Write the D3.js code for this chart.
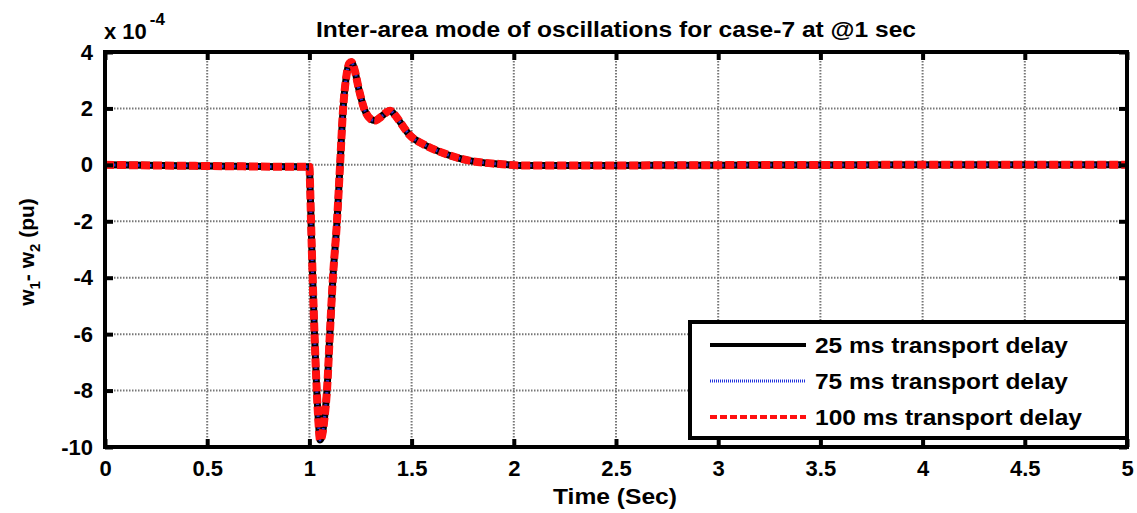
<!DOCTYPE html>
<html>
<head>
<meta charset="utf-8">
<script src="https://cdn.jsdelivr.net/npm/d3@7"></script>
<style>
  body { margin: 0; background: #fff; }
  svg { display: block; font-family: "Liberation Sans", Arial, sans-serif; font-weight: bold; }
</style>
</head>
<body>
<svg id="chart" width="1137" height="513"></svg>
<script>
// data (values in units of 1e-4 pu)
var timeSec = [0, 0.5, 0.99, 1.0, 1.004, 1.008, 1.016, 1.025, 1.036, 1.045, 1.052, 1.062, 1.075, 1.086, 1.1, 1.115, 1.135, 1.15, 1.165, 1.18, 1.195, 1.205, 1.22, 1.243, 1.27, 1.3, 1.32, 1.35, 1.375, 1.395, 1.42, 1.45, 1.49, 1.56, 1.64, 1.72, 1.79, 1.86, 1.93, 2.03, 2.5, 3, 4, 5];
var delta = [0, -0.04, -0.07, -0.07, -0.9, -2.0, -4.0, -6.0, -8.0, -9.2, -9.75, -9.6, -8.9, -8.0, -6.0, -4.0, -2.0, 0, 2.0, 3.1, 3.6, 3.65, 3.4, 2.65, 1.95, 1.62, 1.57, 1.7, 1.85, 1.92, 1.75, 1.45, 1.06, 0.72, 0.46, 0.26, 0.14, 0.07, 0.03, -0.02, -0.02, -0.01, 0, 0];
var seriesNames = ["25 ms transport delay", "75 ms transport delay", "100 ms transport delay"];
var xTicks = [0, 0.5, 1, 1.5, 2, 2.5, 3, 3.5, 4, 4.5, 5];
var yTicks = [4, 2, 0, -2, -4, -6, -8, -10];

var svg = d3.select("#chart");
// plot box (note: "top" is a reserved window global, so use other names)
var pLeft = 105, pRight = 1127, pTop = 52, pBottom = 447;

var x = d3.scaleLinear().domain([0, 5]).range([pLeft, pRight]);
var y = d3.scaleLinear().domain([-10, 4]).range([pBottom, pTop]);

// grid
var grid = svg.append("g");
grid.selectAll(".gx").data(xTicks.slice(1, -1)).enter().append("line")
  .attr("x1", d => x(d)).attr("x2", d => x(d))
  .attr("y1", pTop).attr("y2", pBottom)
  .attr("stroke", "#777").attr("stroke-width", 2).attr("stroke-dasharray", "1.5,1.5");
grid.selectAll(".gy").data(yTicks.slice(1, -1)).enter().append("line")
  .attr("x1", pLeft).attr("x2", pRight)
  .attr("y1", d => y(d)).attr("y2", d => y(d))
  .attr("stroke", "#777").attr("stroke-width", 2).attr("stroke-dasharray", "1.5,1.5");

// curves
var line = d3.line().x((d, i) => x(timeSec[i])).y(d => y(d)).curve(d3.curveMonotoneX);
var styles = [
  { color: "#000", width: 7, dash: null },
  { color: "#2233dd", width: 3, dash: "1.5,1.5" },
  { color: "#ff1010", width: 8, dash: "9,3" }
];
styles.forEach(function(s) {
  svg.append("path").datum(delta)
    .attr("d", line)
    .attr("fill", "none")
    .attr("stroke", s.color)
    .attr("stroke-width", s.width)
    .attr("stroke-dasharray", s.dash);
});

// axes with inward ticks, labels use a plain hyphen like the original
var plain = d => String(d);
function styleAxis(g) {
  g.select(".domain").remove();
  g.selectAll(".tick line").attr("stroke", "#000").attr("stroke-width", 4);
  g.selectAll("text").attr("fill", "#000").style("font-size", "22px").style("font-weight", "bold")
    .style("font-family", "'Liberation Sans', Arial, sans-serif");
}
svg.append("g").attr("transform", "translate(0," + pBottom + ")")
  .call(d3.axisBottom(x).tickValues(xTicks).tickFormat(plain).tickSizeInner(-8).tickPadding(13))
  .call(styleAxis);
svg.append("g").attr("transform", "translate(0," + pTop + ")")
  .call(d3.axisTop(x).tickValues(xTicks).tickFormat("").tickSizeInner(-8))
  .call(styleAxis);
svg.append("g").attr("transform", "translate(" + pLeft + ",0)")
  .call(d3.axisLeft(y).tickValues(yTicks).tickFormat(plain).tickSizeInner(-8).tickPadding(12))
  .call(styleAxis);
svg.append("g").attr("transform", "translate(" + pRight + ",0)")
  .call(d3.axisRight(y).tickValues(yTicks).tickFormat("").tickSizeInner(-8))
  .call(styleAxis);

// frame
svg.append("rect").attr("x", pLeft).attr("y", pTop)
  .attr("width", pRight - pLeft).attr("height", pBottom - pTop)
  .attr("fill", "none").attr("stroke", "#000").attr("stroke-width", 4);

// exponent label
var ex = svg.append("text").attr("x", 104).attr("y", 39).style("font-size", "22px");
ex.append("tspan").text("x 10");
ex.append("tspan").attr("dy", -14).attr("dx", 3).style("font-size", "17px").text("-4");

// title
svg.append("text").attr("x", 616).attr("y", 37).attr("text-anchor", "middle")
  .attr("textLength", 600).attr("lengthAdjust", "spacingAndGlyphs")
  .style("font-size", "22px").text("Inter-area mode of oscillations for case-7 at @1 sec");

// x label
svg.append("text").attr("x", 615).attr("y", 504).attr("text-anchor", "middle")
  .attr("textLength", 124).attr("lengthAdjust", "spacingAndGlyphs")
  .style("font-size", "22px").text("Time (Sec)");

// y label
var yl = svg.append("text").attr("transform", "translate(34,252) rotate(-90)")
  .attr("text-anchor", "middle").style("font-size", "21px");
yl.append("tspan").text("w");
yl.append("tspan").attr("dy", 6).style("font-size", "15px").text("1");
yl.append("tspan").attr("dy", -6).text("- w");
yl.append("tspan").attr("dy", 6).style("font-size", "15px").text("2");
yl.append("tspan").attr("dy", -6).text(" (pu)");

// legend
var lg = svg.append("g");
lg.append("rect").attr("x", 690).attr("y", 322).attr("width", 437).attr("height", 116)
  .attr("fill", "#fff").attr("stroke", "#000").attr("stroke-width", 4);
var legendY = [345, 381, 417];
var legendW = [253, 253, 267];
seriesNames.forEach(function(name, i) {
  var s = styles[i];
  lg.append("line").attr("x1", 710).attr("x2", 806).attr("y1", legendY[i]).attr("y2", legendY[i])
    .attr("stroke", s.color)
    .attr("stroke-width", i === 0 ? 4 : (i === 1 ? 3 : 4))
    .attr("stroke-dasharray", i === 0 ? null : (i === 1 ? "1,1" : "7,3"));
  lg.append("text").attr("x", 815).attr("y", legendY[i] + 8)
    .attr("textLength", legendW[i]).attr("lengthAdjust", "spacingAndGlyphs")
    .style("font-size", "22px").text(name);
});
</script>
</body>
</html>
